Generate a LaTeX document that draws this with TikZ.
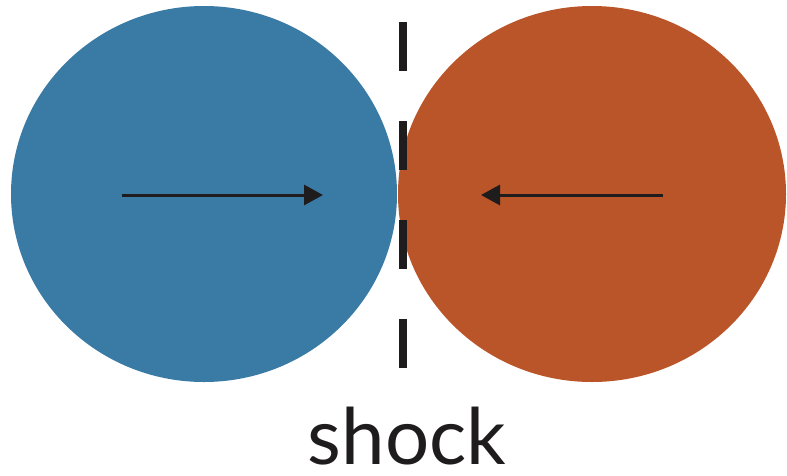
\documentclass[tikz,border=0pt]{standalone}
\usepackage{fontspec}
\setmainfont{Lato}
\usetikzlibrary{arrows.meta}
\definecolor{blueball}{RGB}{58,123,166}
\definecolor{orangeball}{RGB}{185,85,40}
\definecolor{ink}{RGB}{30,28,28}
\tikzset{
  flow/.style={draw=ink, line width=3pt, -{Triangle[length=19pt,width=20pt]}},
  shockline/.style={draw=ink, line width=8pt, dash pattern=on 49pt off 50pt},
}
\begin{document}
\begin{tikzpicture}[x=1pt,y=-1pt]
\useasboundingbox (0,0) rectangle (787,475);
\fill[blueball] (204,194) ellipse [x radius=193, y radius=188];
\fill[orangeball] (592,194) ellipse [x radius=194, y radius=188];
\coordinate (l1) at (122,195);
\coordinate (l2) at (323,195);
\coordinate (r1) at (663,195);
\coordinate (r2) at (481,195);
\draw[flow] (l1) -- (l2);
\draw[flow] (r1) -- (r2);
\coordinate (s1) at (403,22);
\coordinate (s2) at (403,368);
\draw[shockline] (s1) -- (s2);
\node[anchor=base, inner sep=0pt, text depth=0pt, font=\fontsize{78}{80}\selectfont, text=ink] (label) at (407,464) {shock};
\end{tikzpicture}
\end{document}
